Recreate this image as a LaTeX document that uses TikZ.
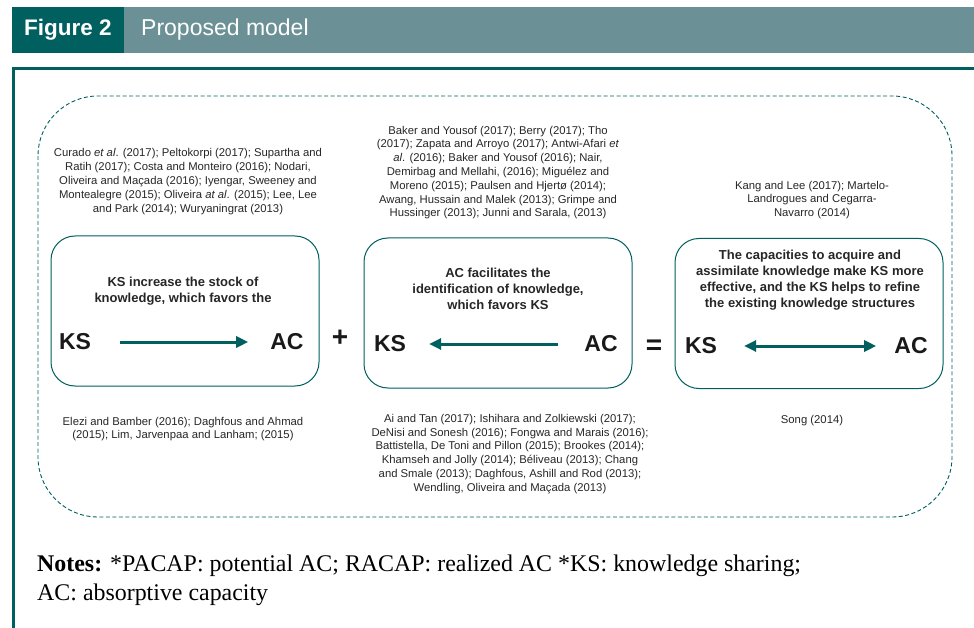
\documentclass[tikz,border=0pt]{standalone}
\usepackage{fontspec}
\setmainfont{Liberation Sans}
\newfontfamily\notesfont{Liberation Serif}
\usetikzlibrary{positioning, arrows.meta}
\definecolor{tealdark}{RGB}{0,95,95}
\definecolor{teallight}{RGB}{107,144,150}

\begin{document}
\begin{tikzpicture}[x=1pt, y=-1pt,
	cite/.style={align=center, font=\fontsize{11.3}{13.8}\selectfont, text=black!85, inner sep=0},
	claim/.style={align=center, font=\fontsize{13}{16}\selectfont\bfseries, text=black!85, inner sep=0},
	big/.style={font=\fontsize{23}{23}\selectfont\bfseries, text=black!90, inner sep=0},
	modelbox/.style={draw=tealdark, line width=1pt, rounded corners=24pt, minimum width=268pt, minimum height=150pt, inner sep=0},
	flow/.style={draw=tealdark, line width=3pt, -{Triangle[length=12pt, width=11pt]}},
	flowboth/.style={draw=tealdark, line width=3pt, {Triangle[length=12pt, width=11pt]}-{Triangle[length=12pt, width=11pt]}}]
		\useasboundingbox (0,0) rectangle (974,628);

		\fill[tealdark] (12,7) rectangle (124,53);
		\fill[teallight] (124,7) rectangle (974,53);
		\node[font=\fontsize{22.5}{23}\selectfont\bfseries, text=white] (figno) at (68,30) {Figure 2};
		\node[font=\fontsize{23}{23}\selectfont, text=white, anchor=west, inner sep=0] (figtitle) at (141,30) {Proposed model};

		\draw[tealdark, line width=3pt] (974,69) -- (13.5,69) -- (13.5,628);
		\draw[tealdark, line width=0.9pt, dash pattern=on 4pt off 2.5pt, rounded corners=60pt] (38,96) rectangle (952,517);

		\node[modelbox] (boxks) at (185,311) {};
		\node[modelbox] (boxac) at (498,313) {};
		\node[modelbox] (boxboth) at (809,313.5) {};

		\node[claim] (claimks) at (183,291) {KS increase the stock of\\knowledge, which favors the};
		\node[claim] (claimac) at (498,289) {AC facilitates the\\identification of knowledge,\\which favors KS};
		\node[claim] (claimboth) at (810,280) {The capacities to acquire and\\assimilate knowledge make KS more\\effective, and the KS helps to refine\\the existing knowledge structures};

		\node[big] (ks1) at (75,342) {KS};
		\node[big] (ac1) at (287,342) {AC};
		\draw[flow, shorten <=29pt, shorten >=22pt] (ks1) -- (ac1);

		\node[big] (ks2) at (390,344) {KS};
		\node[big] (ac2) at (601,344) {AC};
		\draw[flow, shorten <=26pt, shorten >=23pt] (ac2) -- (ks2);

		\node[big] (ks3) at (701,346) {KS};
		\node[big] (ac3) at (911,346) {AC};
		\draw[flowboth, shorten <=27pt, shorten >=18pt] (ks3) -- (ac3);

		\node[big, font=\fontsize{28}{28}\selectfont\bfseries] (plus) at (340,338) {+};
		\node[big, font=\fontsize{28}{28}\selectfont\bfseries] (equals) at (654,347) {=};

		\node[cite] (citeks) at (188,181.5) {Curado \textit{et al}. (2017); Peltokorpi (2017); Supartha and\\Ratih (2017); Costa and Monteiro (2016); Nodari,\\Oliveira and Maçada (2016); Iyengar, Sweeney and\\Montealegre (2015); Oliveira \textit{at al}. (2015); Lee, Lee\\and Park (2014); Wuryaningrat (2013)};
		\node[cite] (citeac) at (498,172.5) {Baker and Yousof (2017); Berry (2017); Tho\\(2017); Zapata and Arroyo (2017); Antwi-Afari \textit{et}\\\textit{al}. (2016); Baker and Yousof (2016); Nair,\\Demirbag and Mellahi, (2016); Miguélez and\\Moreno (2015); Paulsen and Hjertø (2014);\\Awang, Hussain and Malek (2013); Grimpe and\\Hussinger (2013); Junni and Sarala, (2013)};
		\node[cite] (citeboth) at (812,200) {Kang and Lee (2017); Martelo-\\Landrogues and Cegarra-\\Navarro (2014)};

		\node[cite] (citeksb) at (183,429) {Elezi and Bamber (2016); Daghfous and Ahmad\\(2015); Lim, Jarvenpaa and Lanham; (2015)};
		\node[cite] (citeacb) at (510,454) {Ai and Tan (2017); Ishihara and Zolkiewski (2017);\\DeNisi and Sonesh (2016); Fongwa and Marais (2016);\\Battistella, De Toni and Pillon (2015); Brookes (2014);\\Khamseh and Jolly (2014); Béliveau (2013); Chang\\and Smale (2013); Daghfous, Ashill and Rod (2013);\\Wendling, Oliveira and Maçada (2013)};
		\node[cite] (citebothb) at (812,421) {Song (2014)};

		\node[anchor=west, align=left, inner sep=0, font=\notesfont\fontsize{23.9}{29}\selectfont] (notes) at (37,580.5) {\textbf{Notes:} *PACAP: potential AC; RACAP: realized AC *KS: knowledge sharing;\\AC: absorptive capacity};

	\end{tikzpicture}
\end{document}
